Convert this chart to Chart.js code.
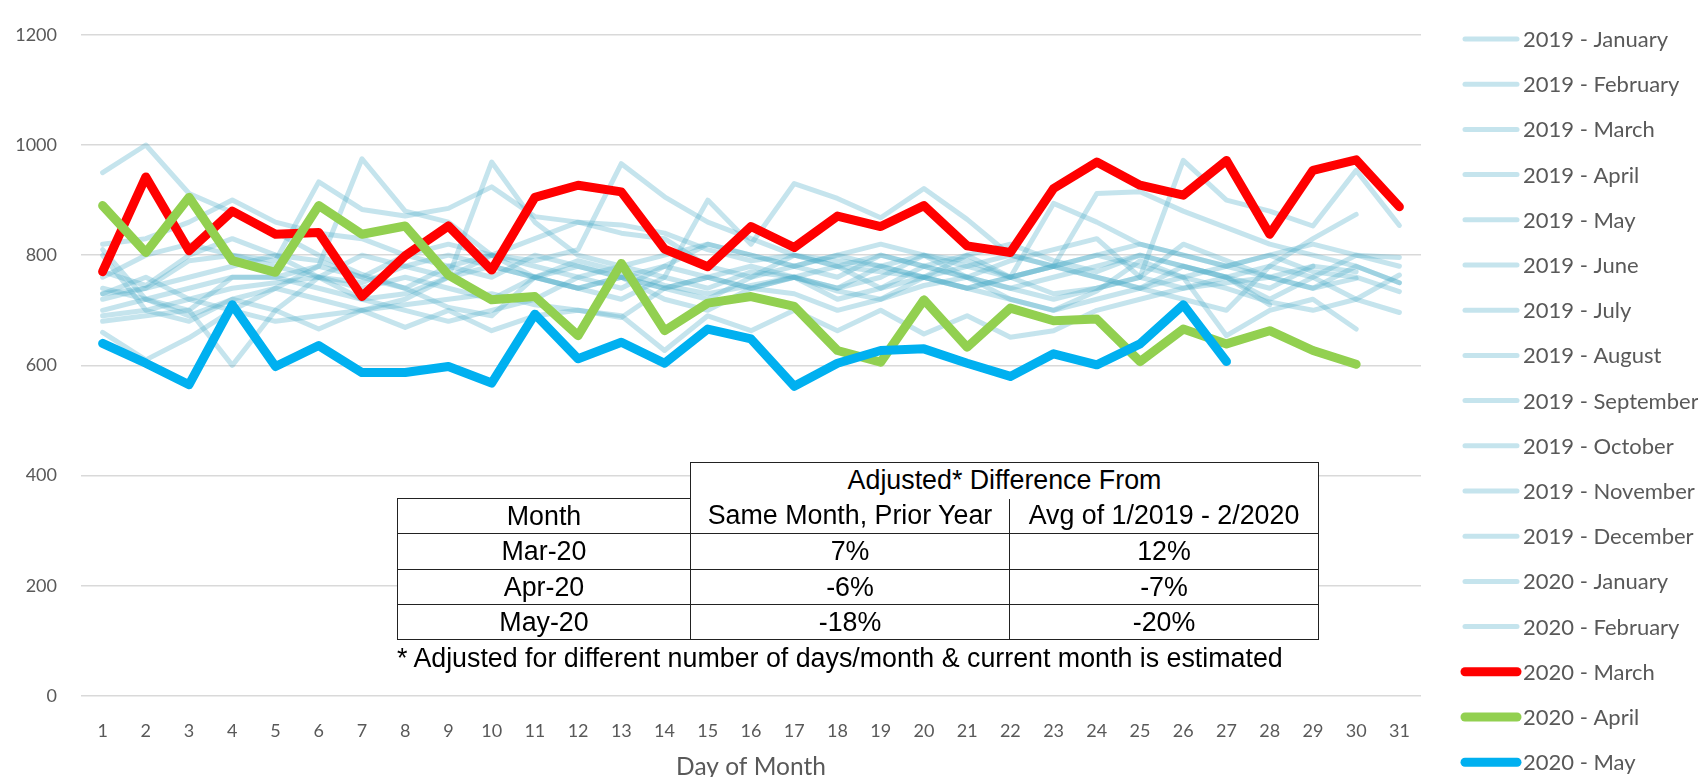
<!DOCTYPE html>
<html>
<head>
<meta charset="utf-8">
<script src="https://cdn.jsdelivr.net/npm/chart.js@4.4.1/dist/chart.umd.min.js"></script>
<style>
  body { margin: 0; background: #fff; }
  #wrap { position: relative; width: 1698px; height: 777px; }
  #tbl {
    position: absolute; left: 397px; top: 462px;
    border-collapse: collapse; table-layout: fixed;
    font-family: "Liberation Sans", Arial, sans-serif; font-size: 26.8px; color: #000;
  }
  #tbl td { padding: 0; text-align: center; white-space: nowrap; overflow: hidden; background: #fff; line-height: 1; }
  #tbl td.b { border: 1.5px solid #222; }
  #tbl td.blank { background: transparent; border: none; }
  #note {
    position: absolute; left: 397px; top: 643px;
    font-family: "Liberation Sans", Arial, sans-serif; font-size: 26.8px; color: #000; white-space: nowrap;
  }
</style>
</head>
<body>
<div id="wrap">
  <canvas id="grafico" width="1698" height="777"></canvas>
  <table id="tbl">
    <colgroup><col style="width:293px"><col style="width:319px"><col style="width:309px"></colgroup>
    <tr style="height:36px">
      <td class="blank"></td>
      <td colspan="2" style="border:1.5px solid #222;border-bottom:none">Adjusted* Difference From</td>
    </tr>
    <tr style="height:35px">
      <td class="b">Month</td>
      <td style="border:1.5px solid #222;border-top:none">Same Month, Prior Year</td>
      <td style="border:1.5px solid #222;border-top:none">Avg of 1/2019 - 2/2020</td>
    </tr>
    <tr style="height:36px"><td class="b">Mar-20</td><td class="b">7%</td><td class="b">12%</td></tr>
    <tr style="height:35px"><td class="b">Apr-20</td><td class="b">-6%</td><td class="b">-7%</td></tr>
    <tr style="height:35px"><td class="b">May-20</td><td class="b">-18%</td><td class="b">-20%</td></tr>
  </table>
  <div id="note">* Adjusted for different number of days/month &amp; current month is estimated</div>
</div>
<script>
const days = Array.from({length: 31}, (_, i) => String(i + 1));

const monthNames = [
  "2019 - January", "2019 - February", "2019 - March", "2019 - April",
  "2019 - May", "2019 - June", "2019 - July", "2019 - August",
  "2019 - September", "2019 - October", "2019 - November", "2019 - December",
  "2020 - January", "2020 - February", "2020 - March", "2020 - April", "2020 - May"
];

const jan19 = [950, 1000, 912, 878, 842, 800, 765, 740, 705, 690, 760, 790, 770, 745, 730, 745, 760, 735, 720, 745, 760, 720, 700, 735, 790, 760, 740, 715, 700, 720, 764];
const feb19 = [820, 830, 860, 900, 860, 840, 830, 800, 780, 800, 830, 860, 855, 840, 810, 790, 800, 780, 770, 760, 800, 820, 790, 770, 800, 780, 760, 710];
const mar19 = [730, 740, 790, 800, 790, 933, 883, 871, 885, 924, 870, 860, 840, 830, 780, 760, 800, 790, 780, 800, 760, 790, 810, 830, 760, 740, 750, 760, 740, 780, 750];
const apr19 = [680, 690, 700, 760, 760, 780, 975, 880, 860, 800, 760, 740, 760, 720, 700, 740, 760, 720, 740, 780, 800, 760, 730, 740, 760, 820, 790, 760, 780, 770];
const may19 = [700, 720, 740, 760, 760, 740, 720, 730, 760, 969, 860, 800, 780, 760, 740, 770, 760, 740, 760, 800, 790, 760, 780, 800, 780, 760, 780, 800, 770, 760, 734];
const jun19 = [740, 720, 700, 600, 700, 760, 800, 780, 760, 800, 790, 810, 966, 906, 860, 830, 800, 780, 740, 760, 780, 800, 780, 760, 740, 720, 700, 780, 830, 874];
const jul19 = [770, 745, 800, 830, 800, 760, 750, 780, 800, 780, 760, 740, 720, 760, 900, 820, 930, 903, 868, 921, 865, 800, 780, 760, 740, 780, 760, 720, 760, 800, 796];
const aug19 = [690, 700, 720, 740, 750, 760, 740, 760, 740, 720, 760, 780, 760, 740, 760, 780, 760, 740, 780, 760, 740, 760, 780, 912, 915, 880, 850, 820, 800, 780, 750];
const sep19 = [810, 720, 690, 720, 700, 666, 700, 669, 700, 663, 690, 700, 687, 740, 760, 740, 730, 700, 720, 760, 740, 720, 700, 720, 740, 760, 654, 700, 720, 666];
const oct19 = [730, 760, 720, 700, 680, 690, 700, 710, 720, 730, 710, 700, 690, 627, 690, 663, 700, 663, 700, 657, 690, 651, 663, 700, 720, 740, 760, 780, 760, 720, 696];
const nov19 = [720, 740, 760, 780, 800, 790, 760, 740, 780, 760, 800, 780, 760, 740, 720, 760, 780, 800, 780, 760, 740, 760, 894, 860, 820, 800, 780, 760, 740, 758];
const dec19 = [800, 700, 680, 720, 740, 720, 700, 720, 760, 780, 760, 740, 760, 780, 760, 740, 760, 780, 800, 780, 760, 740, 720, 740, 760, 972, 900, 880, 853, 954, 854];
const jan20 = [760, 800, 820, 800, 780, 760, 720, 700, 680, 700, 720, 760, 780, 800, 820, 800, 780, 800, 820, 800, 780, 760, 780, 800, 820, 800, 780, 800, 820, 800, 780];
const feb20 = [660, 610, 650, 700, 740, 780, 760, 800, 820, 800, 780, 760, 740, 780, 820, 800, 780, 760, 800, 780, 760, 740, 760, 780, 800, 780, 760, 740, 780];

const mar20 = [770, 942, 808, 880, 838, 841, 725, 799, 853, 773, 905, 927, 915, 811, 779, 852, 814, 871, 852, 890, 817, 805, 921, 969, 927, 909, 972, 838, 954, 973, 888];
const apr20 = [890, 805, 905, 790, 769, 890, 838, 853, 764, 719, 725, 654, 785, 663, 713, 725, 707, 627, 606, 719, 633, 704, 681, 684, 607, 666, 639, 663, 627, 602];
const may20 = [640, 604, 565, 710, 598, 636, 587, 587, 598, 568, 693, 612, 642, 604, 666, 648, 562, 604, 627, 630, 604, 580, 621, 601, 639, 710, 607];

const lightSeries = [jan19, feb19, mar19, apr19, may19, jun19, jul19, aug19, sep19, oct19, nov19, dec19, jan20, feb20];
const lightColor = "rgba(75, 172, 198, 0.32)";

const datasets = lightSeries.map((vals, i) => ({
  label: monthNames[i],
  data: vals,
  borderColor: lightColor,
  borderWidth: 5,
  order: 4
}));
datasets.push({ label: monthNames[14], data: mar20, borderColor: "#ff0000", borderWidth: 9, order: 3 });
datasets.push({ label: monthNames[15], data: apr20, borderColor: "#92d050", borderWidth: 9, order: 2 });
datasets.push({ label: monthNames[16], data: may20, borderColor: "#00b0f0", borderWidth: 9, order: 1 });

const sideLegend = {
  id: "sideLegend",
  afterDraw(chart) {
    const ctx = chart.ctx;
    ctx.save();
    ctx.font = "22px Lato";
    ctx.textBaseline = "middle";
    ctx.lineCap = "round";
    chart.data.datasets.forEach((ds, i) => {
      const y = 39 + i * 45.2;
      ctx.strokeStyle = ds.borderColor;
      ctx.lineWidth = ds.borderWidth;
      ctx.beginPath();
      ctx.moveTo(1465, y);
      ctx.lineTo(1517, y);
      ctx.stroke();
      ctx.fillStyle = "#595959";
      ctx.fillText(ds.label, 1523, y + 1);
    });
    ctx.restore();
  }
};

const ctx = document.getElementById("grafico").getContext("2d");
new Chart(ctx, {
  type: "line",
  data: { labels: days, datasets: datasets },
  options: {
    responsive: false,
    animation: false,
    elements: {
      point: { radius: 0 },
      line: { tension: 0, borderJoinStyle: "round", borderCapStyle: "round" }
    },
    layout: { padding: { top: 21, right: 277, bottom: 0, left: 0 } },
    plugins: { legend: { display: false }, tooltip: { enabled: false } },
    scales: {
      x: {
        offset: true,
        grid: { display: false },
        border: { display: false },
        ticks: { color: "#595959", font: { family: "Lato", size: 18 }, padding: 16, maxRotation: 0, autoSkip: false },
        title: { display: true, text: "Day of Month", color: "#595959", font: { family: "Lato", size: 24.5, lineHeight: 0.8 }, padding: 0 },
        afterFit(scale) { scale.height = 81; }
      },
      y: {
        min: 0,
        max: 1200,
        ticks: { stepSize: 200, color: "#595959", font: { family: "Lato", size: 18 }, padding: 24, callback: (v) => String(v) },
        grid: { color: "#d9d9d9", lineWidth: 1.5, drawTicks: false },
        border: { display: false },
        afterFit(scale) { scale.width = 81; }
      }
    }
  },
  plugins: [sideLegend]
});
</script>
</body>
</html>
